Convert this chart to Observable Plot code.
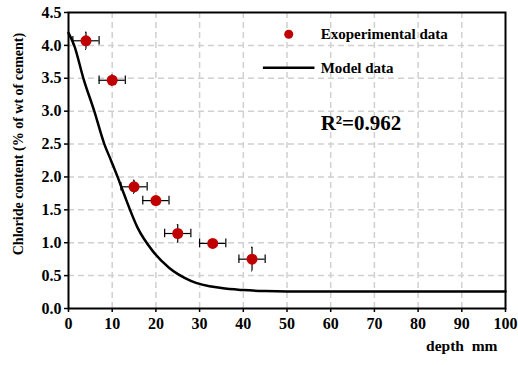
<!DOCTYPE html>
<html>
<head>
<meta charset="utf-8">
<script src="https://cdn.jsdelivr.net/npm/d3@7"></script>
<script src="https://cdn.jsdelivr.net/npm/@observablehq/plot@0.6"></script>
<style>
  body { margin: 0; background: #fff; }
  #chart svg, #chart svg text { font-family: "Liberation Serif", "Times New Roman", serif !important; font-weight: bold; }
  #chart svg g[aria-label="x-axis tick label"], #chart svg g[aria-label="y-axis tick label"],
  #chart svg g[aria-label="x-axis tick label"] text, #chart svg g[aria-label="y-axis tick label"] text { font-size: 16px !important; }
</style>
</head>
<body>
<div id="chart"></div>
<script>
// Experimental data
const expDepth = [4, 10, 15, 20, 25, 33, 42];
const expChloride = [4.07, 3.47, 1.85, 1.64, 1.14, 0.99, 0.75];
const expErrY = [0.13, 0.08, 0.10, 0.05, 0.135, 0.03, 0.18];
const expErrX = [3, 3, 3, 3, 3, 3, 3];

// Model curve
const modelDepth = [0, 1.3, 3.4, 5.9, 8.2, 9.8, 11.3, 12.7, 15.8, 19.2, 23, 28, 35, 40, 45, 50, 60, 70, 80, 90, 100];
const modelChloride = [4.19, 4.0, 3.5, 3.0, 2.5, 2.24, 1.99, 1.74, 1.23, 0.88, 0.62, 0.42, 0.31, 0.28, 0.265, 0.26, 0.26, 0.26, 0.26, 0.26, 0.26];

const xTicks = [0, 10, 20, 30, 40, 50, 60, 70, 80, 90, 100];
const yTicks = [0, 0.5, 1, 1.5, 2, 2.5, 3, 3.5, 4, 4.5];

const exp = expDepth.map((x, i) => ({x, y: expChloride[i], ey: expErrY[i], ex: expErrX[i]}));
const model = modelDepth.map((x, i) => ({x, y: modelChloride[i]}));

const capX = 0.1;   // half-width of y-error caps (data units)
const capY = 0.065; // half-height of x-error caps (data units)
const FF = "Liberation Serif";

const chart = Plot.plot({
  width: 518,
  height: 365,
  marginLeft: 68,
  marginRight: 13,
  marginTop: 12,
  marginBottom: 57,
  style: {fontFamily: FF, fontSize: "16px", fontWeight: "bold", color: "#000"},
  x: {domain: [0, 100], ticks: xTicks, tickFormat: d3.format("d"), label: null},
  y: {domain: [0, 4.5], ticks: yTicks, tickFormat: d3.format(".1f"), label: null},
  marks: [
    Plot.gridX(xTicks.slice(1, -1), {stroke: "#d0d0d0", strokeOpacity: 1, strokeWidth: 1.5, strokeDasharray: "6,4"}),
    Plot.gridY(yTicks.slice(1, -1), {stroke: "#d0d0d0", strokeOpacity: 1, strokeWidth: 1.5, strokeDasharray: "6,4"}),
    Plot.axisX(xTicks, {tickSize: 4, tickPadding: 5, fontSize: 16, fontWeight: "bold", fontFamily: FF, strokeWidth: 1.5, label: null}),
    Plot.axisY(yTicks, {tickSize: 4, tickPadding: 3, fontSize: 16, fontWeight: "bold", fontFamily: FF, strokeWidth: 1.5, label: null}),
    Plot.frame({stroke: "#000", strokeWidth: 2}),
    Plot.line(model, {x: "x", y: "y", curve: "monotone-x", stroke: "#000", strokeWidth: 2.5}),
    // error bars
    Plot.ruleX(exp, {x: "x", y1: d => d.y - d.ey, y2: d => d.y + d.ey, stroke: "#000", strokeWidth: 1.2}),
    Plot.ruleY(exp, {y: d => d.y + d.ey, x1: d => d.x - capX, x2: d => d.x + capX, stroke: "#000", strokeWidth: 1.2}),
    Plot.ruleY(exp, {y: d => d.y - d.ey, x1: d => d.x - capX, x2: d => d.x + capX, stroke: "#000", strokeWidth: 1.2}),
    Plot.ruleY(exp, {y: "y", x1: d => d.x - d.ex, x2: d => d.x + d.ex, stroke: "#000", strokeWidth: 1.2}),
    Plot.ruleX(exp, {x: d => d.x - d.ex, y1: d => d.y - capY, y2: d => d.y + capY, stroke: "#000", strokeWidth: 1.2}),
    Plot.ruleX(exp, {x: d => d.x + d.ex, y1: d => d.y - capY, y2: d => d.y + capY, stroke: "#000", strokeWidth: 1.2}),
    Plot.dot(exp, {x: "x", y: "y", r: 5.5, fill: "#c00000", stroke: "none"}),
    // legend
    Plot.dot([{x: 50.4, y: 4.17}], {x: "x", y: "y", r: 4.5, fill: "#c00000"}),
    Plot.text([{x: 57.7, y: 4.17, t: "Exoperimental data"}], {x: "x", y: "y", text: "t", textAnchor: "start", fontSize: 15, fontWeight: "bold", fontFamily: FF}),
    Plot.ruleY([{y: 3.66}], {y: "y", x1: 44.6, x2: 56.4, stroke: "#000", strokeWidth: 2.5}),
    Plot.text([{x: 57.7, y: 3.66, t: "Model data"}], {x: "x", y: "y", text: "t", textAnchor: "start", fontSize: 15, fontWeight: "bold", fontFamily: FF}),
    Plot.text([{x: 57.7, y: 2.81, t: "R²=0.962"}], {x: "x", y: "y", text: "t", textAnchor: "start", fontSize: 21, fontWeight: "bold", fontFamily: FF}),
    // axis titles
    Plot.text([{y: 2.5, t: "Chloride content (% of wt of cement)"}], {y: "y", text: "t", frameAnchor: "left", textAnchor: "middle", rotate: -90, dx: -50, fontSize: 14, fontWeight: "bold", fontFamily: FF}),
    Plot.text([{t: "depth  mm"}], {text: "t", frameAnchor: "bottom-right", dy: 42, dx: -8, textAnchor: "end", fontSize: 15.5, fontWeight: "bold", fontFamily: FF})
  ]
});
document.getElementById("chart").appendChild(chart);
</script>
</body>
</html>
